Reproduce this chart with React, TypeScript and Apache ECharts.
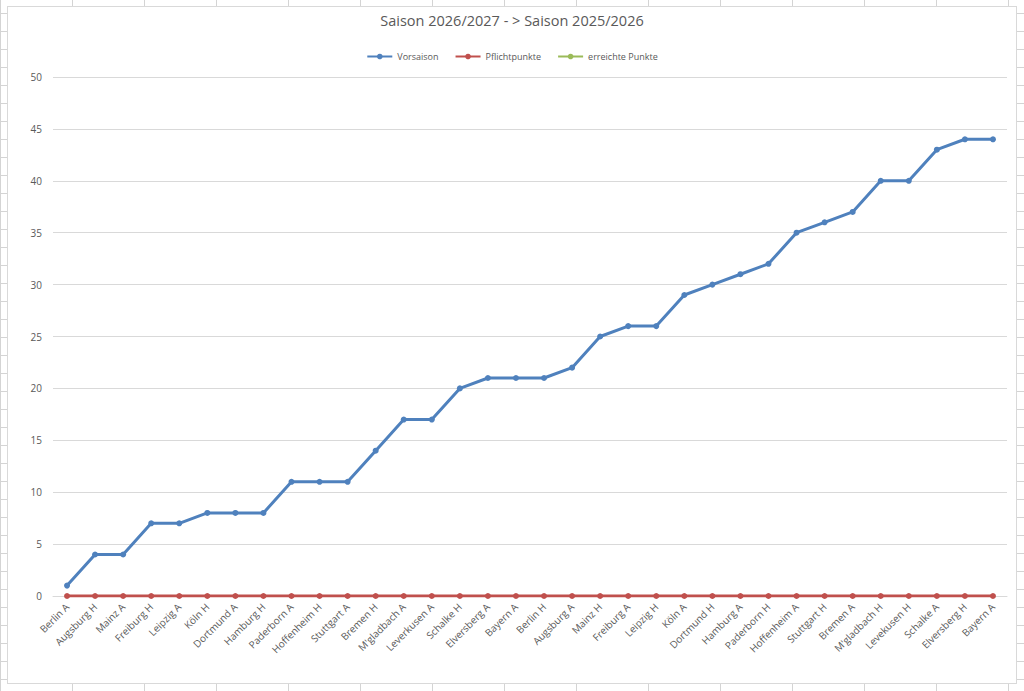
import React, { useEffect, useRef } from "react";
import * as echarts from "echarts";

const titleText = "Saison 2026/2027 - > Saison 2025/2026";

const categories = [
  "Berlin A", "Augsburg H", "Mainz A", "Freiburg H", "Leipzig A", "Köln H",
  "Dortmund A", "Hamburg H", "Paderborn A", "Hoffenheim H", "Stuttgart A",
  "Bremen H", "M'gladbach A", "Leverkusen A", "Schalke H", "Elversberg A",
  "Bayern A", "Berlin H", "Augsburg A", "Mainz H", "Freiburg A", "Leipzig H",
  "Köln A", "Dortmund H", "Hamburg A", "Paderborn H", "Hoffenheim A",
  "Stuttgart H", "Bremen A", "M'gladbach H", "Levekusen H", "Schalke A",
  "Elversberg H", "Bayern A",
];

const vorsaison = [
  1, 4, 4, 7, 7, 8, 8, 8, 11, 11, 11, 14, 17, 17, 20, 21, 21, 21, 22, 25,
  26, 26, 29, 30, 31, 32, 35, 36, 37, 40, 40, 43, 44, 44,
];

const pflichtpunkte = [
  0, 0, 0, 0, 0, 0, 0, 0, 0, 0, 0, 0, 0, 0, 0, 0, 0, 0, 0, 0,
  0, 0, 0, 0, 0, 0, 0, 0, 0, 0, 0, 0, 0, 0,
];

const erreichtePunkte: (number | null)[] = [];

const yTicks = { min: 0, max: 50, interval: 5 };

export default function App() {
  const ref = useRef<HTMLDivElement>(null);

  useEffect(() => {
    if (!ref.current) return;
    const chart = echarts.init(ref.current, undefined, { renderer: "svg" });
    const font = "'Open Sans', 'Noto Sans', sans-serif";
    const textColor = "#595959";
    chart.setOption({
      animation: false,
      textStyle: { fontFamily: font },
      title: {
        text: titleText,
        left: "center",
        top: 8,
        textStyle: {
          fontFamily: font,
          fontSize: 14.5,
          fontWeight: "normal",
          color: textColor,
        },
      },
      legend: {
        top: 47,
        left: "center",
        itemWidth: 25,
        itemHeight: 7,
        itemGap: 16,
        textStyle: { fontFamily: font, fontSize: 9, color: textColor },
        data: ["Vorsaison", "Pflichtpunkte", "erreichte Punkte"],
      },
      grid: { left: 53, right: 17, top: 77, bottom: 95, containLabel: false },
      xAxis: {
        type: "category",
        data: categories,
        boundaryGap: true,
        axisLine: { show: true, lineStyle: { color: "#d9d9d9", width: 1 } },
        axisTick: { show: false },
        axisLabel: {
          rotate: 45,
          interval: 0,
          margin: 9,
          fontSize: 10,
          color: textColor,
          fontFamily: font,
        },
      },
      yAxis: {
        type: "value",
        min: yTicks.min,
        max: yTicks.max,
        interval: yTicks.interval,
        axisLine: { show: false },
        axisTick: { show: false },
        axisLabel: { fontSize: 10, color: textColor, margin: 11, fontFamily: font },
        splitLine: { lineStyle: { color: "#d9d9d9", width: 1 } },
      },
      series: [
        {
          name: "Vorsaison",
          type: "line",
          data: vorsaison,
          symbol: "circle",
          symbolSize: 6,
          lineStyle: { color: "#4f81bd", width: 3 },
          itemStyle: { color: "#4f81bd" },
        },
        {
          name: "Pflichtpunkte",
          type: "line",
          data: pflichtpunkte,
          symbol: "circle",
          symbolSize: 6,
          lineStyle: { color: "#c0504d", width: 3 },
          itemStyle: { color: "#c0504d" },
        },
        {
          name: "erreichte Punkte",
          type: "line",
          data: erreichtePunkte,
          symbol: "circle",
          symbolSize: 6,
          lineStyle: { color: "#9bbb59", width: 3 },
          itemStyle: { color: "#9bbb59" },
        },
      ],
    });
    return () => chart.dispose();
  }, []);

  return (
    <div
      style={{
        position: "fixed",
        left: 0,
        top: 0,
        width: 1024,
        height: 691,
        backgroundColor: "#ffffff",
        backgroundImage:
          "linear-gradient(to right, #d4d4d4 1px, transparent 1px), linear-gradient(to bottom, #d4d4d4 1px, transparent 1px)",
        backgroundSize: "72px 18px, 72px 18px",
        backgroundPosition: "0 0, 0 13px",
        overflow: "hidden",
      }}
    >
      <div
        style={{
          position: "absolute",
          left: 7,
          top: 6,
          width: 1008,
          height: 676,
          background: "#ffffff",
          border: "1px solid #d9d9d9",
        }}
      />
      <div
        ref={ref}
        style={{ position: "absolute", left: 0, top: 0, width: 1024, height: 691 }}
      />
    </div>
  );
}
